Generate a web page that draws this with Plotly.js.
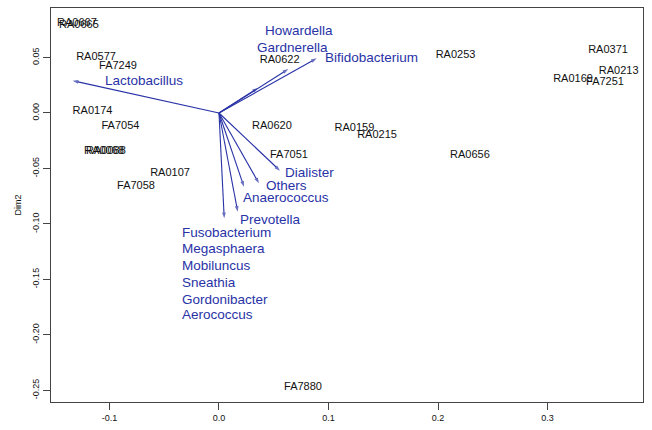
<!DOCTYPE html>
<html>
<head>
<meta charset="utf-8">
<script src="https://cdn.plot.ly/plotly-3.0.1.min.js"></script>
<style>html,body{margin:0;padding:0;background:#fff;}#chart{width:652px;height:430px;}</style>
</head>
<body>
<div id="chart"></div>
<script>
// Sample scores (label centres)
const sampleIds = ['RA0667','RA0665','RA0577','FA7249','RA0174','FA7054','RA0068','RA0088','RA0107','FA7058',
  'RA0622','RA0620','RA0159','RA0215','FA7051','RA0253','RA0371','RA0213','RA0169','FA7251','RA0656','FA7880'];
const sampleX = [-0.1297,-0.1279,-0.1123,-0.0922,-0.1155,-0.0900,-0.1050,-0.1032,-0.0447,-0.0758,
  0.0554,0.0484,0.1237,0.1443,0.0639,0.2160,0.3553,0.3650,0.3233,0.3525,0.2292,0.0767];
const sampleY = [0.0811,0.0793,0.0505,0.0419,0.0012,-0.0120,-0.0342,-0.0342,-0.0547,-0.0664,
  0.0477,-0.0123,-0.0138,-0.0198,-0.0385,0.0523,0.0561,0.0372,0.0306,0.0277,-0.0385,-0.2468];

// Taxa loadings (arrow tips)
const taxa = ['Lactobacillus','Howardella','Gardnerella','Bifidobacterium','Dialister','Others','Anaerococcus','Prevotella','Fusobacterium',
  'Megasphaera','Mobiluncus','Sneathia','Gordonibacter','Aerococcus'];
const taxaX = [-0.1336,0.0356,0.0633,0.0892,0.0557,0.0365,0.0228,0.0171,0.0048,0,0,0,0,0];
const taxaY = [0.0291,0.0225,0.0396,0.0493,-0.0520,-0.0634,-0.0664,-0.0889,-0.0949,0,0,0,0,0];
// Taxa label anchors (left edge of text)
const taxaLabelX = [-0.1062,0.0402,0.0329,0.0947,0.0582,0.0414,0.0201,0.0176,-0.0356,-0.0356,-0.0356,-0.0356,-0.0356,-0.0356];
const taxaLabelY = [0.0291,0.0739,0.0592,0.0502,-0.0534,-0.0649,-0.0763,-0.0964,-0.1078,-0.1225,-0.1376,-0.1525,-0.1676,-0.1820];

const xTicks = [-0.1,0.0,0.1,0.2,0.3];
const xTickText = ['-0.1','0.0','0.1','0.2','0.3'];
const yTicks = [0.05,0.00,-0.05,-0.10,-0.15,-0.20,-0.25];
const yTickText = ['0.05','0.00','-0.05','-0.10','-0.15','-0.20','-0.25'];

const BLUE = '#2832a6';
const FONT = 'Liberation Sans, Arial, sans-serif';

// arrows as one line trace with null gaps
const ax = [], ay = [], asz = [];
for (let i = 0; i < taxa.length; i++) {
  if (taxaX[i] === 0 && taxaY[i] === 0) continue;
  ax.push(0, taxaX[i], null); ay.push(0, taxaY[i], null); asz.push(0, 6, 0);
}

const traces = [
  {type:'scatter', mode:'lines+markers', x:ax, y:ay, hoverinfo:'skip', connectgaps:false,
   line:{color:BLUE, width:1.1},
   marker:{symbol:'arrow', angleref:'previous', size:asz, color:BLUE, line:{width:0}}},
  {type:'scatter', mode:'text', x:sampleX, y:sampleY, text:sampleIds, textposition:'middle center',
   hoverinfo:'skip', textfont:{family:FONT, size:11, color:'#111'}}
];

const annotations = taxa.map((t,i) => ({
  x: taxaLabelX[i], y: taxaLabelY[i], xref:'x', yref:'y', text:t, showarrow:false,
  xanchor:'left', yanchor:'middle', font:{family:FONT, size:13.5, color:BLUE}
}));

const layout = {
  width:652, height:430,
  margin:{l:51, r:9, t:8, b:28, pad:0},
  paper_bgcolor:'#fff', plot_bgcolor:'#fff',
  showlegend:false,
  font:{family:FONT, color:'#111'},
  xaxis:{range:[-0.1534,0.3872], autorange:false, showgrid:false, zeroline:false,
    showline:true, mirror:true, linecolor:'#444', linewidth:1,
    ticks:'outside', ticklen:7, tickcolor:'#444', tickvals:xTicks, ticktext:xTickText,
    tickfont:{family:FONT, size:9, color:'#111'}},
  yaxis:{range:[-0.2604,0.0946], autorange:false, showgrid:false, zeroline:false,
    showline:true, mirror:true, linecolor:'#444', linewidth:1,
    ticks:'outside', ticklen:7, tickcolor:'#444', tickvals:yTicks, ticktext:yTickText, tickangle:-90,
    tickfont:{family:FONT, size:9, color:'#111'},
    title:{text:'Dim2', font:{family:FONT, size:9, color:'#111'}, standoff:8}},
  annotations: annotations
};

Plotly.newPlot('chart', traces, layout, {staticPlot:true, displayModeBar:false});
</script>
</body>
</html>
